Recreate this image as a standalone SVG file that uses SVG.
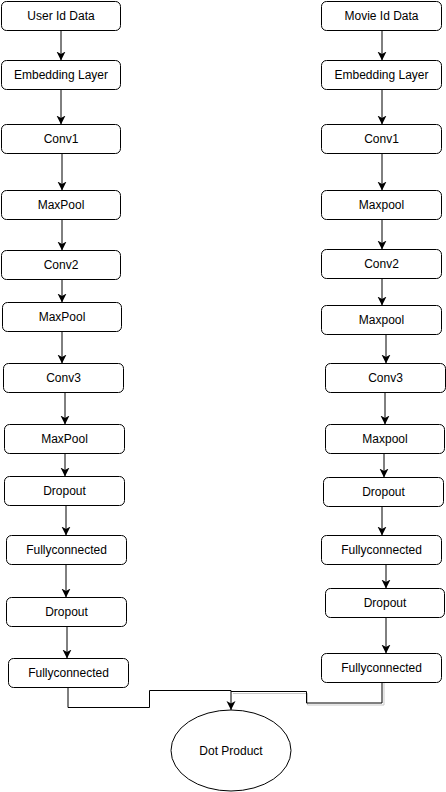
<svg xmlns="http://www.w3.org/2000/svg" width="446" height="792" viewBox="0 0 446 792">
<style>
.node rect{fill:#ffffff;stroke:#000000;stroke-width:1}
.node ellipse{fill:#ffffff;stroke:#000000;stroke-width:1}
.node text{font-family:"Liberation Sans",Arial,sans-serif;font-size:12px;fill:#000000;text-anchor:middle}
.edge{fill:none;stroke:#000000;stroke-width:1}
.shadow{fill:none;stroke:#c8c8c8;stroke-width:1}
</style>
<defs>
<marker id="arr" markerUnits="userSpaceOnUse" markerWidth="10" markerHeight="10" refX="9" refY="4.5" orient="auto">
<path d="M0,0 L9,4.5 L0,9 L2.5,4.5 z" fill="#000000"/>
</marker>
</defs>
<rect width="446" height="792" fill="#ffffff"/>
<g id="connectors">
<path class="edge" marker-end="url(#arr)" d="M61,30 V60.5"/>
<path class="edge" marker-end="url(#arr)" d="M61,89 V124.5"/>
<path class="edge" marker-end="url(#arr)" d="M62,154 V190.5"/>
<path class="edge" marker-end="url(#arr)" d="M62,220 V250.5"/>
<path class="edge" marker-end="url(#arr)" d="M62,280 V302.5"/>
<path class="edge" marker-end="url(#arr)" d="M62,332 V363.5"/>
<path class="edge" marker-end="url(#arr)" d="M65,393 V424.5"/>
<path class="edge" marker-end="url(#arr)" d="M65,454 V476.5"/>
<path class="edge" marker-end="url(#arr)" d="M66,506 V535.5"/>
<path class="edge" marker-end="url(#arr)" d="M66,565 V597.5"/>
<path class="edge" marker-end="url(#arr)" d="M67,627 V658.5"/>
<path class="edge" marker-end="url(#arr)" d="M382,30 V60.5"/>
<path class="edge" marker-end="url(#arr)" d="M382,90 V124.5"/>
<path class="edge" marker-end="url(#arr)" d="M382,154 V190.5"/>
<path class="edge" marker-end="url(#arr)" d="M382,220 V249.5"/>
<path class="edge" marker-end="url(#arr)" d="M382,279 V305.5"/>
<path class="edge" marker-end="url(#arr)" d="M386,335 V363.5"/>
<path class="edge" marker-end="url(#arr)" d="M385,393 V424.5"/>
<path class="edge" marker-end="url(#arr)" d="M384,453 V477.5"/>
<path class="edge" marker-end="url(#arr)" d="M382,507 V535.5"/>
<path class="edge" marker-end="url(#arr)" d="M386,565 V588.5"/>
<path class="edge" marker-end="url(#arr)" d="M386,618 V653.5"/>
<path class="shadow" d="M384,683 V705 H307.5 V693.5 H233"/>
<path class="edge" d="M382,683 V703 H306.5 V691.5 H231"/>
<path class="edge" marker-end="url(#arr)" d="M68,688 V707.5 H149.5 V690.5 H231 V710"/>
</g>
<g id="n1" class="node"><rect x="1.5" y="1.5" width="119" height="29" rx="5"/><text x="61" y="20">User Id Data</text></g>
<g id="n2" class="node"><rect x="1.5" y="60.5" width="119" height="29" rx="5"/><text x="61" y="79">Embedding Layer</text></g>
<g id="n3" class="node"><rect x="1.5" y="124.5" width="119" height="29" rx="5"/><text x="61" y="143">Conv1</text></g>
<g id="n4" class="node"><rect x="1.5" y="190.5" width="119" height="29" rx="5"/><text x="61" y="209">MaxPool</text></g>
<g id="n5" class="node"><rect x="1.5" y="250.5" width="119" height="29" rx="5"/><text x="61" y="269">Conv2</text></g>
<g id="n6" class="node"><rect x="2.5" y="302.5" width="119" height="29" rx="5"/><text x="62" y="321">MaxPool</text></g>
<g id="n7" class="node"><rect x="3.5" y="363.5" width="120" height="29" rx="5"/><text x="63.5" y="382">Conv3</text></g>
<g id="n8" class="node"><rect x="4.5" y="424.5" width="120" height="29" rx="5"/><text x="64.5" y="443">MaxPool</text></g>
<g id="n9" class="node"><rect x="4.5" y="476.5" width="120" height="29" rx="5"/><text x="64.5" y="495">Dropout</text></g>
<g id="n10" class="node"><rect x="6.5" y="535.5" width="120" height="29" rx="5"/><text x="66.5" y="554">Fullyconnected</text></g>
<g id="n11" class="node"><rect x="6.5" y="597.5" width="120" height="29" rx="5"/><text x="66.5" y="616">Dropout</text></g>
<g id="n12" class="node"><rect x="8.5" y="658.5" width="120" height="29" rx="5"/><text x="68.5" y="677">Fullyconnected</text></g>
<g id="m1" class="node"><rect x="321.5" y="1.5" width="120" height="29" rx="5"/><text x="381.5" y="20">Movie Id Data</text></g>
<g id="m2" class="node"><rect x="321.5" y="60.5" width="120" height="29" rx="5"/><text x="381.5" y="79">Embedding Layer</text></g>
<g id="m3" class="node"><rect x="321.5" y="124.5" width="120" height="29" rx="5"/><text x="381.5" y="143">Conv1</text></g>
<g id="m4" class="node"><rect x="321.5" y="190.5" width="120" height="29" rx="5"/><text x="381.5" y="209">Maxpool</text></g>
<g id="m5" class="node"><rect x="321.5" y="249.5" width="120" height="29" rx="5"/><text x="381.5" y="268">Conv2</text></g>
<g id="m6" class="node"><rect x="321.5" y="305.5" width="120" height="29" rx="5"/><text x="381.5" y="324">Maxpool</text></g>
<g id="m7" class="node"><rect x="325.5" y="363.5" width="120" height="29" rx="5"/><text x="385.5" y="382">Conv3</text></g>
<g id="m8" class="node"><rect x="325.5" y="424.5" width="119" height="29" rx="5"/><text x="385" y="443">Maxpool</text></g>
<g id="m9" class="node"><rect x="323.5" y="477.5" width="120" height="29" rx="5"/><text x="383.5" y="496">Dropout</text></g>
<g id="m10" class="node"><rect x="321.5" y="535.5" width="120" height="29" rx="5"/><text x="381.5" y="554">Fullyconnected</text></g>
<g id="m11" class="node"><rect x="325.5" y="588.5" width="119" height="29" rx="5"/><text x="385" y="607">Dropout</text></g>
<g id="m12" class="node"><rect x="321.5" y="653.5" width="120" height="29" rx="5"/><text x="381.5" y="672">Fullyconnected</text></g>
<g id="dot" class="node"><ellipse cx="231" cy="750.5" rx="60" ry="40.5"/><text x="231" y="754.5">Dot Product</text></g>
</svg>
